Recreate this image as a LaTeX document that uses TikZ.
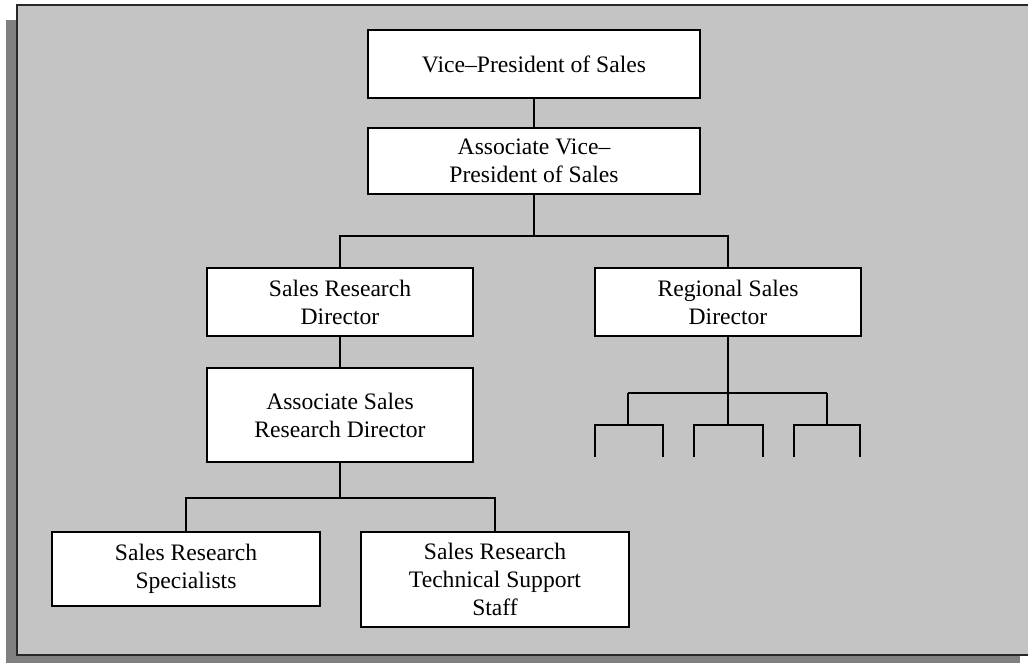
\documentclass[tikz,border=0pt]{standalone}
\usepackage{fontspec}
\setmainfont{Liberation Serif}
\definecolor{panelgray}{RGB}{196,196,196}
\definecolor{shadowgray}{RGB}{128,128,128}
\definecolor{edgedark}{RGB}{40,40,40}
\tikzset{
  orgbox/.style={draw=black, line width=1.6pt, fill=white, align=center,
    font=\fontsize{23.6}{28}\selectfont, inner sep=0pt},
  conn/.style={draw=black, line width=1.6pt}
}
\begin{document}
\begin{tikzpicture}[x=1pt,y=-1pt]
\useasboundingbox (0,0) rectangle (1028,662);
\fill[white] (0,0) rectangle (1028,662);
\begin{scope}
\clip (0,0) rectangle (1028,662);
\fill[shadowgray] (6,20) rectangle (1020,663);
\filldraw[fill=panelgray, draw=edgedark, line width=2pt] (17,5) rectangle (1040,655);
\end{scope}

\node[orgbox, minimum width=332, minimum height=68] (vp) at (534,64) {Vice--President of Sales};
\node[orgbox, minimum width=332, minimum height=66] (avp) at (534,161) {Associate Vice--\\President of Sales};
\node[orgbox, minimum width=266, minimum height=68] (srd) at (340,302) {Sales Research\\Director};
\node[orgbox, minimum width=266, minimum height=68] (rsd) at (728,302) {Regional Sales\\Director};
\node[orgbox, minimum width=266, minimum height=94] (asrd) at (340,415) {Associate Sales\\Research Director};
\node[orgbox, minimum width=268, minimum height=74] (srs) at (186,569) {Sales Research\\Specialists};
\node[orgbox, minimum width=268, minimum height=95] (srtss) at (495,579.5) {Sales Research\\Technical Support\\Staff};

\coordinate (j1) at (534,236);
\coordinate (j2) at (340,498);
\coordinate (j3) at (728,393);
\coordinate (l1) at (628,393);
\coordinate (r1) at (827,393);
\coordinate (a1) at (628,425);
\coordinate (a2) at (728,425);
\coordinate (a3) at (827,425);
\coordinate (b1l) at (595,425);
\coordinate (b1r) at (663,425);
\coordinate (b2l) at (694,425);
\coordinate (b2r) at (763,425);
\coordinate (b3l) at (794,425);
\coordinate (b3r) at (860,425);
\coordinate (e1l) at (595,457);
\coordinate (e1r) at (663,457);
\coordinate (e2l) at (694,457);
\coordinate (e2r) at (763,457);
\coordinate (e3l) at (794,457);
\coordinate (e3r) at (860,457);

\draw[conn] (vp.south) -- (avp.north);
\draw[conn] (avp.south) -- (j1);
\draw[conn] (srd.north) |- (j1) -| (rsd.north);
\draw[conn] (srd.south) -- (asrd.north);
\draw[conn] (asrd.south) -- (j2);
\draw[conn] (srs.north) |- (j2) -| (srtss.north);
\draw[conn] (rsd.south) -- (j3);
\draw[conn] (l1) -- (r1);
\draw[conn] (l1) -- (a1);
\draw[conn] (j3) -- (a2);
\draw[conn] (r1) -- (a3);
\draw[conn] (e1l) -- (b1l) -- (b1r) -- (e1r);
\draw[conn] (e2l) -- (b2l) -- (b2r) -- (e2r);
\draw[conn] (e3l) -- (b3l) -- (b3r) -- (e3r);
\end{tikzpicture}
\end{document}
